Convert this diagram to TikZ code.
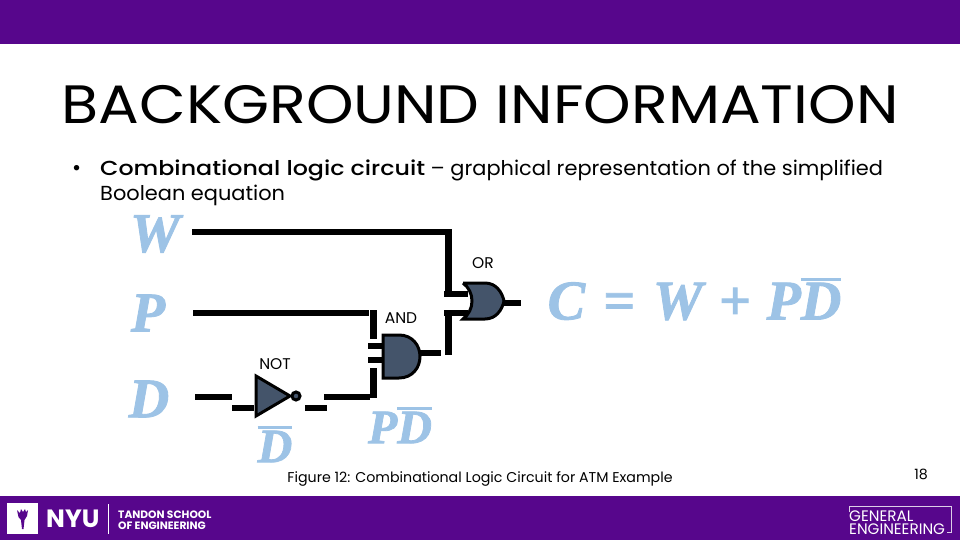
\documentclass[tikz,border=0pt]{standalone}
\usepackage{fontspec}
\usepackage{xcolor}
\setmainfont{Poppins}
\newfontfamily\letterfont[FakeBold=1.5]{Liberation Serif}
\newfontfamily\titlefont[FakeStretch=1.12]{Poppins}
\newfontfamily\bodyfont[FakeStretch=1.03]{Poppins}
\newfontfamily\leadfont[FakeStretch=1.17]{Poppins Medium}
\definecolor{nyuviolet}{HTML}{57068C}
\definecolor{gateslate}{HTML}{44546A}
\definecolor{letterblue}{HTML}{9DC3E6}
\newcommand{\barred}[1]{\vbox{\hrule height 3pt \kern 2pt \hbox{#1}}}
\begin{document}
\begin{tikzpicture}[x=1pt,y=-1pt]
    \tikzstyle{wire}=[draw,line width = 6pt,-,black]
    \tikzstyle{gate}=[draw,line width = 3pt,fill=gateslate,line join=miter]
    \tikzstyle{band}=[fill=nyuviolet,draw=none]
    \tikzstyle{letter}=[inner sep=0,text=letterblue,font=\letterfont\bfseries\itshape\fontsize{56}{56}\selectfont]
    \tikzstyle{sublet}=[letter,font=\letterfont\bfseries\itshape\fontsize{48}{48}\selectfont]
    \tikzstyle{small}=[inner sep=0,font=\fontsize{15.5}{17}\selectfont]
    \tikzstyle{whitetext}=[inner sep=0,text=white,anchor=west]
    \useasboundingbox (0,0) rectangle (960,540);
    \fill[white] (0,0) rectangle (960,540);
    \fill[band] (0,0) rectangle (960,44);
    \fill[band] (0,496) rectangle (960,540);
    % heading and bullet
    \node[inner sep=0,font=\titlefont\fontsize{54}{54}\selectfont] (title) at (480,105) {BACKGROUND INFORMATION};
    \node[inner sep=0,anchor=west,font=\fontsize{22}{22}\selectfont] (dot) at (72,170) {•};
    \node[inner sep=0,anchor=west,font=\bodyfont\fontsize{20.3}{20}\selectfont] (line1) at (100,170.5) {{\leadfont Combinational logic circuit} – graphical representation of the simplified};
    \node[inner sep=0,anchor=west,font=\bodyfont\fontsize{20.3}{20}\selectfont] (line2) at (100,195.5) {Boolean equation};
    % letters
    \node[letter] (w) at (155,234) {W};
    \node[letter] (p) at (148,313) {P};
    \node[letter] (d) at (149,399) {D};
    \node[sublet] (dbar) at (275,444) {\barred{D}};
    \node[sublet] (pd) at (400,425) {\hbox{P}\barred{D}};
    \node[letter] (eq) at (694.5,299) {C\kern18pt=\kern18pt W\kern16pt+\kern16pt\hbox{P}\barred{D}};
    % gate labels
    \node[small] (orl) at (483,263) {OR};
    \node[small] (andl) at (401,318) {AND};
    \node[small] (notl) at (275,364) {NOT};
    \node[small,font=\fontsize{14.2}{16}\selectfont] (fig) at (480,479) {Figure 12: Combinational Logic Circuit for ATM Example};
    \node[small,font=\fontsize{14.2}{16}\selectfont] (num) at (921,474) {18};
    % gates
    \draw[gate] (256,376) -- (290,396) -- (256,416) -- cycle;
    \draw[gate] (296,396) circle (4);
    \draw[gate] (383,335) -- (399,335) .. controls (412,335) and (420,345) .. (420,356.5) .. controls (420,368) and (412,378) .. (399,378) -- (383,378) -- cycle;
    \draw[gate] (463,283) -- (485,283) .. controls (496,283) and (502,292) .. (504,301) .. controls (502,310) and (496,319) .. (485,319) -- (463,319) .. controls (475,310) and (475,292) .. (463,283);
    % wire ends
    \coordinate (wa) at (192,232);
    \coordinate (wb) at (448,232);
    \coordinate (wc) at (448,294);
    \coordinate (wd) at (444,294);
    \coordinate (we) at (468,294);
    \coordinate (pa) at (193,313);
    \coordinate (pb) at (369,313);
    \coordinate (pc) at (373,310);
    \coordinate (pe) at (373,339);
    \coordinate (af) at (368,346);
    \coordinate (ag) at (383,346);
    \coordinate (ah) at (368,360);
    \coordinate (ai) at (383,360);
    \coordinate (aj) at (373,368);
    \coordinate (ak) at (373,398);
    \coordinate (da) at (195,397);
    \coordinate (db) at (232,397);
    \coordinate (dc) at (232,408);
    \coordinate (dd) at (254,408);
    \coordinate (de) at (305,408);
    \coordinate (df) at (327,408);
    \coordinate (dg) at (324,397);
    \coordinate (dh) at (370,397);
    \coordinate (oa) at (420,353);
    \coordinate (ob) at (441,353);
    \coordinate (oc) at (444,313);
    \coordinate (od) at (468,313);
    \coordinate (oe) at (448,313);
    \coordinate (of) at (448,355);
    \coordinate (og) at (504,303);
    \coordinate (oh) at (521,303);
    % wires
    \draw[wire] (wa) -- (wb);
    \draw[wire,line width=7pt] (wb) ++(0,-3) -- (wc);
    \draw[wire] (wd) -- (we);
    \draw[wire] (pa) -- (pb);
    \draw[wire,line width=7pt] (pc) -- (pe);
    \draw[wire] (af) -- (ag);
    \draw[wire] (ah) -- (ai);
    \draw[wire,line width=7pt] (aj) -- (ak);
    \draw[wire] (da) -- (db);
    \draw[wire] (dc) -- (dd);
    \draw[wire] (de) -- (df);
    \draw[wire] (dg) -- (dh);
    \draw[wire] (oa) -- (ob);
    \draw[wire] (oc) -- (od);
    \draw[wire,line width=7pt] (oe) -- (of);
    \draw[wire] (og) -- (oh);
    % logos
    \fill[white] (7,503) rectangle (38,534);
    \fill[nyuviolet] (17,510) -- (20,513) -- (21,509) -- (23,512) -- (25,509) -- (26,512) -- (28,510) -- (27,516) -- (24.5,520) -- (23.5,529) -- (22,529) -- (21,520) -- (18.5,517) -- cycle;
    \node[whitetext,font=\bfseries\fontsize{25}{25}\selectfont] (nyu) at (46,518.5) {NYU};
    \draw[white,line width=.8pt] (108,504) -- (108,534);
    \node[whitetext,font=\bfseries\fontsize{10.7}{11}\selectfont] (tandon) at (118,514.5) {TANDON SCHOOL};
    \node[whitetext,font=\bfseries\fontsize{10.7}{11}\selectfont] (engin) at (118,525.5) {OF ENGINEERING};
    \draw[white!80!nyuviolet,line width=1pt] (849,512) -- (849,506) -- (951,506) -- (951,532) -- (947,532);
    \node[whitetext,align=left,font=\fontsize{15.2}{12.5}\selectfont] (gen) at (849,522.5) {GENERAL\\ENGINEERING};
\end{tikzpicture}
\end{document}
